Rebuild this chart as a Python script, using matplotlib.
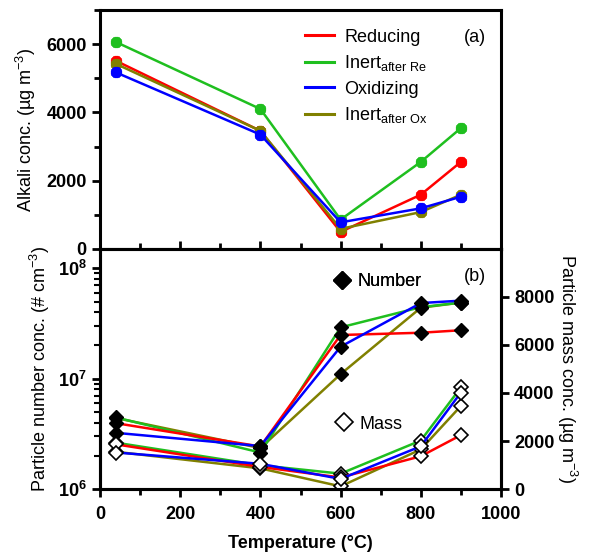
import numpy as np
import matplotlib
matplotlib.use("Agg")
import matplotlib.pyplot as plt
from matplotlib.lines import Line2D
from matplotlib.ticker import MultipleLocator, LogLocator, NullFormatter

plt.rcParams['font.family'] = ['Liberation Sans', 'DejaVu Sans']
plt.rcParams['mathtext.fontset'] = 'custom'
plt.rcParams['mathtext.rm'] = 'Liberation Sans'
plt.rcParams['mathtext.bf'] = 'Liberation Sans:bold'

# data
temps = [40, 400, 600, 800, 900]
series_names = ['Reducing', 'Inert$_{\\mathregular{after\\ Re}}$', 'Oxidizing', 'Inert$_{\\mathregular{after\\ Ox}}$']
colors = ['#ff0000', '#1fbf1f', '#0000ff', '#808000']

alkali_red = [5510, 3460, 500, 1590, 2550]
alkali_green = [6060, 4100, 860, 2550, 3540]
alkali_blue = [5170, 3350, 780, 1190, 1530]
alkali_olive = [5420, 3460, 590, 1080, 1590]

number_red = [3.95e6, 2.43e6, 2.49e7, 2.61e7, 2.75e7]
number_green = [4.45e6, 2.14e6, 2.92e7, 4.45e7, 4.9e7]
number_blue = [3.23e6, 2.45e6, 1.95e7, 4.85e7, 5.1e7]
number_olive = [4.4e6, 2.35e6, 1.10e7, 4.4e7, 4.9e7]

mass_red = [1860, 920, 480, 1365, 2245]
mass_green = [1930, 990, 640, 2020, 4230]
mass_blue = [1520, 1050, 420, 1780, 4020]
mass_olive = [1550, 860, 110, 1650, 3460]

fig = plt.figure(figsize=(5.89, 5.55), dpi=100)
ax_a = fig.add_axes([0.1698, 0.5514, 0.6808, 0.4306])
ax_b = fig.add_axes([0.1698, 0.1189, 0.6808, 0.4325])
ax_m = ax_b.twinx()

lw_sp = 2.2
for ax in (ax_a, ax_b, ax_m):
    for s in ax.spines.values():
        s.set_linewidth(lw_sp)

# panel (a)
alkali = [alkali_red, alkali_green, alkali_blue, alkali_olive]
order = [0, 1, 3, 2]
for i in order:
    ax_a.plot(temps, alkali[i], color=colors[i], lw=1.8, marker=(8, 2, 0),
              ms=8, mew=2.6, mec=colors[i], label=series_names[i])
ax_a.set_xlim(0, 1000)
ax_a.set_ylim(0, 7000)
ax_a.yaxis.set_major_locator(MultipleLocator(2000))
ax_a.yaxis.set_minor_locator(MultipleLocator(1000))
ax_a.xaxis.set_major_locator(MultipleLocator(200))
ax_a.xaxis.set_minor_locator(MultipleLocator(100))
ax_a.set_yticks([0, 2000, 4000, 6000])
ax_a.tick_params(axis='x', which='both', direction='in', labelbottom=False)
ax_a.tick_params(axis='x', which='major', length=6, width=2)
ax_a.tick_params(axis='x', which='minor', length=4, width=2)
ax_a.tick_params(axis='y', which='major', length=6, width=2, labelsize=13)
ax_a.tick_params(axis='y', which='minor', length=4, width=2)
for t in ax_a.get_yticklabels():
    t.set_fontweight('bold')
ax_a.set_ylabel('Alkali conc. (\u00b5g m$^{\\mathregular{-3}}$)', fontsize=13, labelpad=6)
handles = [Line2D([], [], color=colors[i], lw=2.2) for i in range(4)]
ax_a.legend(handles, series_names, loc='upper left', bbox_to_anchor=(0.47, 0.99),
            frameon=False, fontsize=13, handlelength=1.6, handletextpad=0.6,
            labelspacing=0.42)
ax_a.text(0.963, 0.865, '(a)', transform=ax_a.transAxes, fontsize=13, ha='right')

# panel (b)
numbers = [number_red, number_green, number_blue, number_olive]
masses = [mass_red, mass_green, mass_blue, mass_olive]
order_b = [3, 1, 0, 2]
for i in order_b:
    ax_b.plot(temps, numbers[i], color=colors[i], lw=1.8, marker='D', ms=7.5,
              mfc='black', mec='black', zorder=2)
for i in order_b:
    ax_m.plot(temps, masses[i], color=colors[i], lw=1.8, marker='D', ms=7.5,
              mfc='white', mec='black', mew=1.2, zorder=2)
ax_b.set_yscale('log')
ax_b.set_ylim(1e6, 1.5e8)
ax_b.set_xlim(0, 1000)
ax_b.xaxis.set_major_locator(MultipleLocator(200))
ax_b.xaxis.set_minor_locator(MultipleLocator(100))
ax_b.set_yticks([1e6, 1e7, 1e8])
ax_b.set_yticklabels(['$\\mathbf{10^{6}}$', '$\\mathbf{10^{7}}$', '$\\mathbf{10^{8}}$'])
ax_b.yaxis.set_minor_locator(LogLocator(base=10, subs=np.arange(2, 10)))
ax_b.yaxis.set_minor_formatter(NullFormatter())
ax_b.tick_params(axis='both', which='major', length=6, width=2, labelsize=13)
ax_b.tick_params(axis='x', which='major', pad=6)
ax_b.tick_params(axis='both', which='minor', length=4, width=1.5)
ax_b.tick_params(axis='x', which='minor', width=2)
for t in ax_b.get_xticklabels():
    t.set_fontweight('bold')
ax_b.set_ylabel('Particle number conc. (# cm$^{\\mathregular{-3}}$)', fontsize=13, labelpad=4)
ax_b.set_xlabel('Temperature (\u00b0C)', fontsize=13, fontweight='bold', labelpad=9)

ax_m.set_ylim(0, 10000)
ax_m.set_yticks([0, 2000, 4000, 6000, 8000])
ax_m.tick_params(axis='y', which='major', length=6, width=2, labelsize=13)
for t in ax_m.get_yticklabels():
    t.set_fontweight('bold')
ax_m.set_ylabel('Particle mass conc. (\u00b5g m$^{\\mathregular{-3}}$)', fontsize=13,
                rotation=270, labelpad=18)

h_num = [Line2D([], [], ls='none', marker='D', ms=9, mfc='black', mec='black')]
h_mass = [Line2D([], [], ls='none', marker='D', ms=9, mfc='white', mec='black', mew=1.2)]
leg1 = ax_b.legend(h_num, ['Number'], loc='center left', bbox_to_anchor=(0.53, 0.865),
                   frameon=False, fontsize=13, handletextpad=0.1, handlelength=1.5)
ax_b.add_artist(leg1)
ax_m.legend(h_mass, ['Mass'], loc='center left', bbox_to_anchor=(0.535, 0.27),
            frameon=False, fontsize=13, handletextpad=0.1, handlelength=1.5)
ax_b.text(0.963, 0.885, '(b)', transform=ax_b.transAxes, fontsize=13, ha='right', va='center')

fig.savefig('out.png', dpi=100)
